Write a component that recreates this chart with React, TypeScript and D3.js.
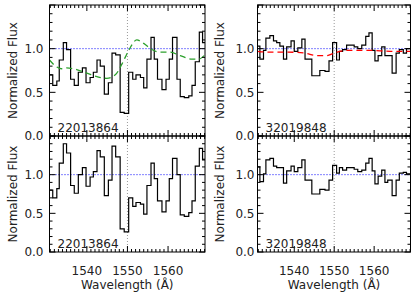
import React from "react";
import * as d3 from "d3";

// ---- data ----
const edgesL = [1530.8,1531.6,1532.6,1533.2,1534.2,1535.0,1536.0,1536.9,1537.9,1538.9,1539.8,1540.8,1541.6,1542.5,1543.3,1544.3,1545.3,1546.2,1547.1,1548.2,1549.2,1550.3,1551.3,1552.1,1553.2,1554.0,1554.8,1555.8,1556.6,1557.4,1558.5,1559.5,1560.3,1561.1,1562.2,1563.0,1564.0,1565.1,1565.9,1566.7,1567.7,1568.5,1569.1];
const fluxTL = [0.70,0.58,0.63,0.87,1.07,0.99,0.65,0.58,0.73,0.78,0.61,0.67,0.73,0.87,0.80,0.48,0.61,0.95,0.93,0.27,0.26,0.73,0.65,0.70,0.67,0.55,0.88,1.13,0.88,0.65,0.53,0.65,0.88,1.13,0.65,0.45,0.44,0.46,0.58,0.85,1.19,1.07];
const fluxBL = [0.80,0.70,0.82,1.15,1.40,1.28,0.86,0.76,1.00,1.09,0.85,0.97,1.04,1.31,1.23,0.73,0.93,1.37,1.23,0.30,0.26,0.70,0.59,0.64,0.62,0.49,0.86,1.15,0.95,0.66,0.52,0.66,0.95,1.21,1.00,0.48,0.46,0.51,0.66,1.11,1.34,1.19];
const modelLW = [1530.8,1532.6,1533.8,1535.0,1537.5,1540.0,1542.5,1544.9,1547.0,1548.6,1550.3,1552.3,1554.0,1556.0,1558.1,1560.5,1563.0,1565.9,1567.5,1569.1];
const modelLF = [0.87,0.79,0.77,0.78,0.76,0.72,0.68,0.66,0.70,0.82,0.98,1.10,1.06,0.99,0.96,0.96,0.92,0.88,0.88,0.93];

const edgesR = [1530.8,1531.4,1532.3,1532.9,1533.9,1534.8,1535.6,1536.4,1537.3,1538.1,1539.2,1540.0,1540.9,1541.9,1542.7,1543.5,1544.4,1545.4,1546.4,1547.7,1548.7,1549.6,1550.6,1551.3,1552.1,1553.1,1554.1,1555.0,1555.9,1556.9,1557.9,1558.7,1559.5,1560.2,1561.0,1561.9,1562.7,1563.4,1564.5,1565.5,1566.3,1567.3,1568.1,1569.1];
const fluxTR = [1.03,0.88,0.98,1.12,1.15,1.09,1.07,1.03,0.88,1.02,1.09,0.97,1.01,1.11,0.88,0.88,0.69,0.69,0.75,0.74,0.86,1.07,0.87,0.97,0.99,1.04,1.04,1.02,1.00,1.04,1.14,1.18,0.98,0.86,0.92,1.02,0.92,0.92,0.72,0.95,0.99,0.95,1.00];
const fluxBR = [1.10,0.91,1.01,1.19,1.21,1.11,1.09,1.09,0.89,1.05,1.11,1.04,1.09,1.19,0.93,0.93,0.75,0.75,0.81,0.80,0.93,1.12,1.02,1.09,1.06,1.09,1.09,1.07,1.04,1.06,1.15,1.21,1.05,0.88,0.98,1.06,0.90,0.93,0.73,0.93,1.02,1.03,1.01];
const modelRW = [1530.8,1533.5,1538.5,1542.5,1545.8,1548.2,1550.0,1553.2,1559.0,1564.0,1569.1];
const modelRF = [0.97,0.96,0.96,0.95,0.92,0.92,0.95,0.98,0.98,0.97,0.97];

const objLeft = "22013864";
const objRight = "32019848";
const xTickVals = [1540, 1550, 1560];
const yTickVals = [0.0, 0.5, 1.0];
const lineWave = 1550;

const xDomain: [number, number] = [1530.8, 1569.1];
const yDomain: [number, number] = [0, 1.5];
const FONT = "DejaVu Sans, sans-serif";

type PanelProps = {
  x0: number; x1: number; y0: number; y1: number;
  edges: number[]; flux: number[];
  modelW?: number[]; modelF?: number[]; modelColor?: string;
  label: string; xLabels: boolean; yLabelOffset: number; ylabX: number; id: string;
};

function Panel(p: PanelProps) {
  const x = d3.scaleLinear().domain(xDomain).range([p.x0, p.x1]);
  const y = d3.scaleLinear().domain(yDomain).range([p.y1, p.y0]);
  const pts: [number, number][] = p.flux.map((f, i) => [p.edges[i], f]);
  pts.push([p.edges[p.edges.length - 1], p.flux[p.flux.length - 1]]);
  const step = d3.line<[number, number]>().x(d => x(d[0])).y(d => y(d[1])).curve(d3.curveStepAfter)(pts) || "";
  let model = "";
  if (p.modelW && p.modelF) {
    const mp: [number, number][] = p.modelW.map((w, i) => [w, p.modelF![i]]);
    model = d3.line<[number, number]>().x(d => x(d[0])).y(d => y(d[1])).curve(d3.curveMonotoneX)(mp) || "";
  }
  const minorX = d3.range(1531, 1570, 1);
  const minorY = d3.range(0, 1.5001, 0.1);
  const majorY = [0, 0.5, 1.0, 1.5];
  const ticks: JSX.Element[] = [];
  minorX.forEach((w, i) => {
    const major = xTickVals.includes(w);
    const L = major ? 6 : 3;
    ticks.push(<line key={"xb" + i} x1={x(w)} x2={x(w)} y1={p.y1} y2={p.y1 - L} stroke="#000" strokeWidth={1} />);
    ticks.push(<line key={"xt" + i} x1={x(w)} x2={x(w)} y1={p.y0} y2={p.y0 + L} stroke="#000" strokeWidth={1} />);
  });
  minorY.forEach((v, i) => {
    const major = majorY.some(m => Math.abs(m - v) < 1e-6);
    const L = major ? 6 : 3;
    ticks.push(<line key={"yl" + i} x1={p.x0} x2={p.x0 + L} y1={y(v)} y2={y(v)} stroke="#000" strokeWidth={1} />);
    ticks.push(<line key={"yr" + i} x1={p.x1} x2={p.x1 - L} y1={y(v)} y2={y(v)} stroke="#000" strokeWidth={1} />);
  });
  const midY = (p.y0 + p.y1) / 2;
  return (
    <g>
      <defs>
        <clipPath id={p.id}><rect x={p.x0} y={p.y0} width={p.x1 - p.x0} height={p.y1 - p.y0} /></clipPath>
      </defs>
      <g clipPath={`url(#${p.id})`}>
        <line x1={x(lineWave)} x2={x(lineWave)} y1={p.y0} y2={p.y1} stroke="#999" strokeWidth={1} strokeDasharray="1,2" />
        <line x1={p.x0} x2={p.x1} y1={y(1)} y2={y(1)} stroke="#0000ff" strokeWidth={1} strokeDasharray="1,2" />
        <path d={step} fill="none" stroke="#000" strokeWidth={1.2} />
        {model && <path d={model} fill="none" stroke={p.modelColor} strokeWidth={1.3} strokeDasharray="6,4" />}
      </g>
      {ticks}
      <rect x={p.x0} y={p.y0} width={p.x1 - p.x0} height={p.y1 - p.y0} fill="none" stroke="#000" strokeWidth={1} />
      {yTickVals.map(v => (
        <text key={"yl" + v} x={p.x0 - p.yLabelOffset} y={y(v)} dy="0.35em" textAnchor="end" fontFamily={FONT} fontSize={12} fill="#222">{v.toFixed(1)}</text>
      ))}
      <text x={p.x0 + 8} y={p.y1 - 4} fontFamily={FONT} fontSize={12} fill="#222">{p.label}</text>
      <text transform={`translate(${p.ylabX},${midY}) rotate(-90)`} textAnchor="middle" dy="0.35em" fontFamily={FONT} fontSize={12} fill="#222">Normalized Flux</text>
      {p.xLabels && xTickVals.map(v => (
        <text key={"xl" + v} x={x(v)} y={p.y1 + 23} textAnchor="middle" fontFamily={FONT} fontSize={12} fill="#222">{v}</text>
      ))}
      {p.xLabels && (
        <text x={(p.x0 + p.x1) / 2} y={p.y1 + 37} textAnchor="middle" fontFamily={FONT} fontSize={12} fill="#222">Wavelength (Å)</text>
      )}
    </g>
  );
}

export default function App() {
  return (
    <svg width={415} height={297} style={{ position: "absolute", left: 0, top: 0, background: "#fff" }}>
      <rect width={415} height={297} fill="#fff" />
      <Panel id="c1" x0={49.5} x1={205} y0={5} y1={136} edges={edgesL} flux={fluxTL} modelW={modelLW} modelF={modelLF} modelColor="#2ca02c" label={objLeft} xLabels={false} yLabelOffset={6} ylabX={13} />
      <Panel id="c2" x0={49.5} x1={205} y0={136} y1={252} edges={edgesL} flux={fluxBL} label={objLeft} xLabels={true} yLabelOffset={6} ylabX={13} />
      <Panel id="c3" x0={257.5} x1={410.5} y0={5} y1={136} edges={edgesR} flux={fluxTR} modelW={modelRW} modelF={modelRF} modelColor="#ff0000" label={objRight} xLabels={false} yLabelOffset={3} ylabX={220} />
      <Panel id="c4" x0={257.5} x1={410.5} y0={136} y1={252} edges={edgesR} flux={fluxBR} label={objRight} xLabels={true} yLabelOffset={3} ylabX={220} />
    </svg>
  );
}
